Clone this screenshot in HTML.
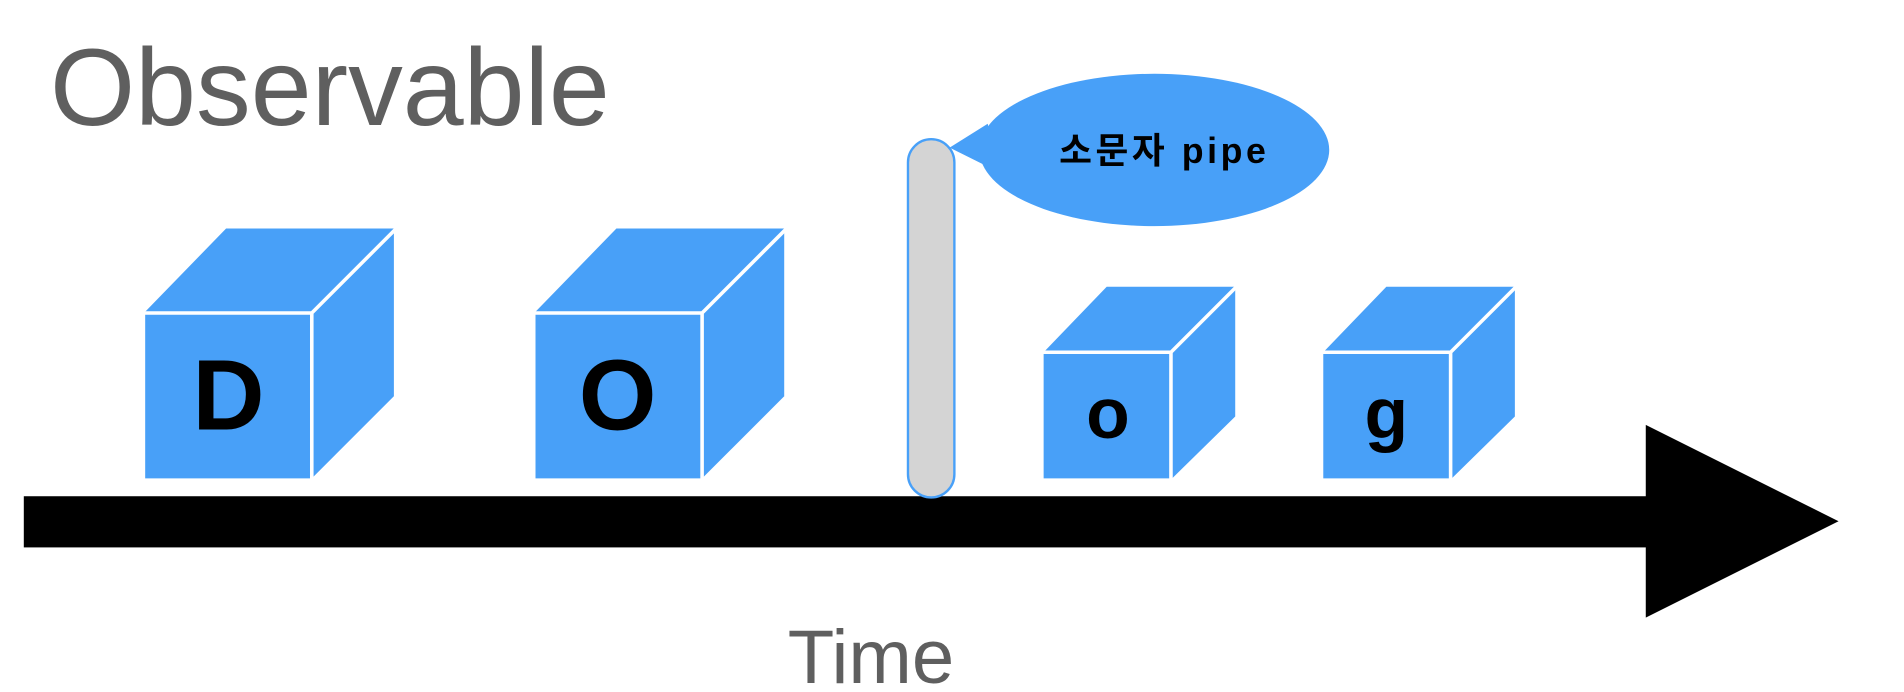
<!DOCTYPE html>
<html><head><meta charset="utf-8"><style>
html,body{margin:0;padding:0;background:#fff;width:1904px;height:692px;overflow:hidden}
svg{display:block}
</style></head><body>
<svg width="1904" height="692" viewBox="0 0 1600 581.5" xmlns="http://www.w3.org/2000/svg">
<rect width="1600" height="581.5" fill="#fff"/>
<text x="42" y="105" font-family="Liberation Sans, sans-serif" font-size="92" fill="#5f5f5f">Observable</text>

<g fill="#48a0f8" stroke="none">
<polygon points="122,262 190,192 331,192 331,333 262,402 122,402"/>
<polygon points="450,262 518,192 659,192 659,333 590,402 450,402"/>
<polygon points="877,296 930,241 1038,241 1038,350 985,402 877,402"/>
<polygon points="1112,296 1165,241 1273,241 1273,350 1220,402 1112,402"/>
</g>
<g stroke="#fff" stroke-width="3" fill="none">
<path d="M118,263 H262 V404 M262,263 L332,193"/>
<path d="M446,263 H590 V404 M590,263 L660,193"/>
<path d="M873,296 H984 V404 M984,296 L1039,241"/>
<path d="M1108,296 H1219 V404 M1219,296 L1274,241"/>
</g>
<g font-family="Liberation Sans, sans-serif" font-weight="bold" fill="#000" text-anchor="middle">
<text x="192" y="361" font-size="84">D</text>
<text x="519" y="361" font-size="84">O</text>
<text x="931" y="368" font-size="60">o</text>
<text x="1165" y="368" font-size="60">g</text>
</g>

<rect x="20" y="417" width="1365" height="43" fill="#000"/>
<polygon points="1383,357 1545,438 1383,519" fill="#000"/>

<rect x="763" y="117" width="39" height="301" rx="19.5" fill="#d4d4d4" stroke="#48a0f8" stroke-width="2"/>
<ellipse cx="970" cy="126" rx="147" ry="64" fill="#48a0f8"/>
<polygon points="798,124 830,104 840,145" fill="#48a0f8"/>
<text x="890" y="137" font-family="Liberation Sans, 'Noto Sans CJK KR', sans-serif" font-weight="bold" font-size="30" letter-spacing="3" fill="#000">소문자 pipe</text>

<text x="662" y="574" font-family="Liberation Sans, sans-serif" font-size="64" fill="#5f5f5f">Time</text>
</svg>
</body></html>
